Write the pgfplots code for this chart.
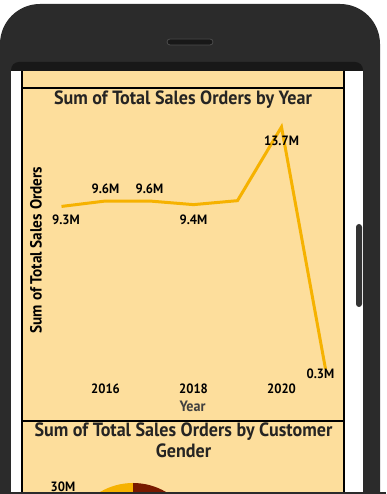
\documentclass[border=0pt]{standalone}
\usepackage{fontspec}
\setmainfont{PT Sans}
\newfontfamily\din[FakeStretch=0.94]{PT Sans}
\usepackage{pgfplots}
\pgfplotsset{compat=1.18}
\definecolor{peach}{RGB}{253,222,156}
\definecolor{lineor}{RGB}{246,178,0}
\definecolor{phone}{RGB}{43,43,43}
\definecolor{bezel}{RGB}{24,24,24}
\definecolor{ttl}{RGB}{37,36,35}
\definecolor{darkred}{RGB}{120,26,0}
\begin{document}
\begin{tikzpicture}[x=1pt,y=1pt]
\path[use as bounding box] (0,0) rectangle (386,494);
\fill[white] (0,0) rectangle (386,494);
\fill[phone, rounded corners=40pt] (0,-60) rectangle (380,490);
\fill[bezel, rounded corners=8pt] (11,400) rectangle (363,432);
\fill[white] (11,2) rectangle (363,423);
\fill[peach] (22,2) rectangle (344,423);
\draw[black, line width=1.5pt] (22,2) -- (22,423) (344,2) -- (344,423);
\draw[black, line width=1.5pt] (22,406) -- (344,406) (22,73) -- (344,73);
\fill[phone] (0,0) rectangle (386,2);
\filldraw[fill=bezel, draw=black!70, line width=0.8pt, rounded corners=3pt] (167,449) rectangle (213,455);
\fill[black!80, rounded corners=3pt] (356,187) rectangle (362,270);
% titles
\node[font=\din\bfseries\fontsize{19.2}{22}\selectfont, text=ttl, anchor=center] at (183,394) {Sum of Total Sales Orders by Year};
\node[font=\din\bfseries\fontsize{19.2}{22}\selectfont, text=ttl, anchor=center] at (183.5,62) {Sum of Total Sales Orders by Customer};
\node[font=\din\bfseries\fontsize{19.2}{22}\selectfont, text=ttl, anchor=center] at (183.5,43) {Gender};
\node[font=\din\bfseries\fontsize{13.5}{15}\selectfont, anchor=center] at (63,7.5) {30M};
\begin{scope}
\clip (23,2) rectangle (343,72);
\fill[lineor] (133,-54) -- (133,11) arc (90:200:65) -- cycle;
\fill[darkred] (133,-54) -- (133,11) arc (90:-20:65) -- cycle;
\end{scope}
\begin{axis}[
  at={(50pt,114pt)}, anchor=south west,
  scale only axis, width=285pt, height=260pt,
  xmin=2014.7386, xmax=2021.216, ymin=-0.31, ymax=14.086,
  axis line style={draw=none},
  xtick={2016,2018,2020}, ytick=\empty,
  xtick pos=bottom,
  major tick length=0pt,
  /pgf/number format/assume math mode=true,
  xticklabel style={font=\din\bfseries\fontsize{13.5}{15}\selectfont, anchor=base, yshift=-13.5pt},
  xticklabel={\pgfmathprintnumber[1000 sep={}]{\tick}},
  xlabel={Year}, ylabel={Sum of Total Sales Orders},
  every axis x label/.style={at={(axis description cs:0.5,0)}, anchor=base, yshift=-32pt, font=\din\bfseries\fontsize{15}{17}\selectfont, text=black!75},
  every axis y label/.style={at={(axis description cs:-0.0491,0.5)}, anchor=center, rotate=90, font=\din\bfseries\fontsize{16.2}{18}\selectfont},
  clip=false,
]
\addplot[lineor, line width=3pt, line join=miter, mark=none] coordinates {
  (2015,9.3) (2016,9.6) (2017,9.6) (2018,9.4) (2019,9.62) (2020,13.7) (2021,0.3)
};
\begin{scope}[every node/.style={font=\din\bfseries\fontsize{13.5}{15}\selectfont, anchor=center}]
\node[xshift=4.5pt, yshift=-13.6pt] at (axis cs:2015,9.3) {9.3M};
\node[yshift=12pt] at (axis cs:2016,9.6) {9.6M};
\node[yshift=12pt] at (axis cs:2017,9.6) {9.6M};
\node[yshift=-15pt] at (axis cs:2018,9.4) {9.4M};
\node[yshift=-14pt] at (axis cs:2020,13.7) {13.7M};
\node[xshift=-5pt, yshift=-4.5pt] at (axis cs:2021,0.3) {0.3M};
\end{scope}
\end{axis}
\end{tikzpicture}
\end{document}
